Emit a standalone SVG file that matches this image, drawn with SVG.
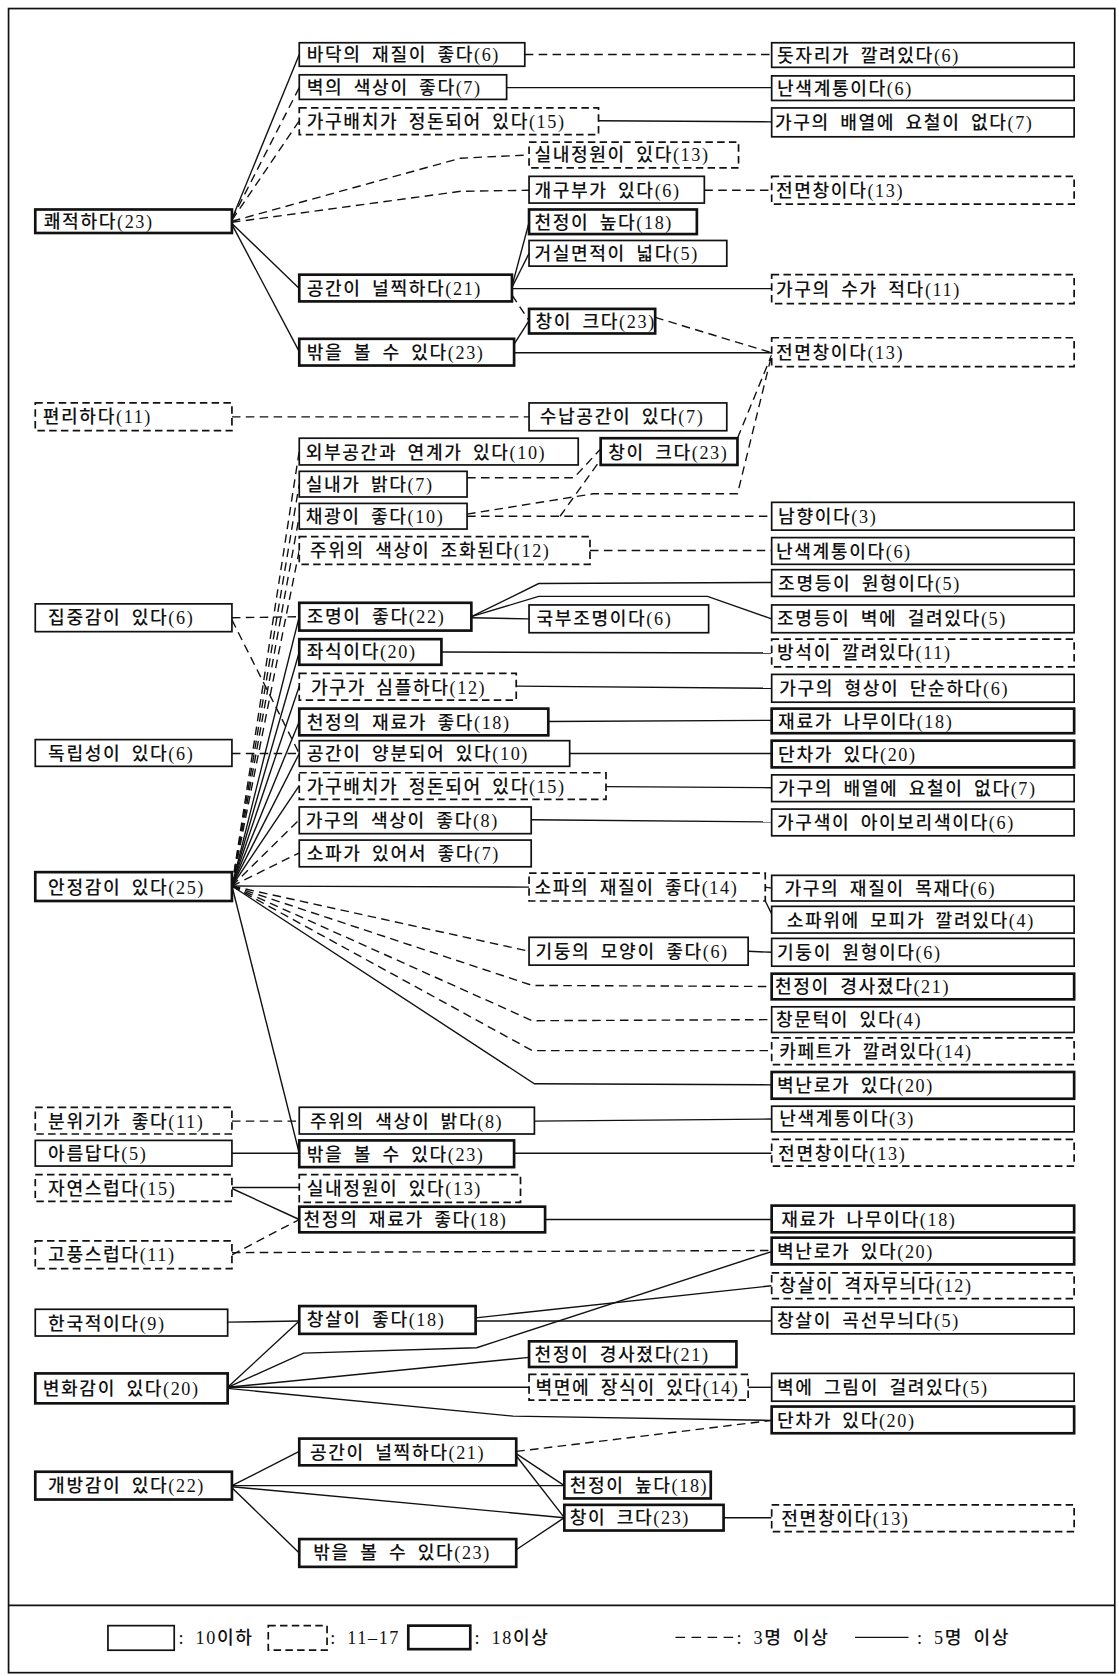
<svg xmlns="http://www.w3.org/2000/svg" width="1119" height="1676" viewBox="0 0 1119 1676">
<style>
.t{fill:#fff;stroke:#111;stroke-width:1.6}
.d{fill:#fff;stroke:#111;stroke-width:1.6;stroke-dasharray:7 4}
.k{fill:#fff;stroke:#111;stroke-width:2.5}
text{font-family:"Liberation Serif","Noto Sans CJK KR",serif;font-size:17px;font-weight:500;letter-spacing:1.5px;word-spacing:4px;fill:#111}
.cs{fill:none;stroke:#111;stroke-width:1.3}
.cd{fill:none;stroke:#111;stroke-width:1.3;stroke-dasharray:8 5}
.fr{fill:none;stroke:#111;stroke-width:1.6}
</style>
<rect width="1119" height="1676" fill="#fff"/>
<g transform="scale(1.0688)">
<g id="frame">
<rect class="fr" x="8" y="8" width="1035" height="1557"/>
<line class="fr" x1="8" y1="1502" x2="1043" y2="1502"/>
</g>
<g id="connectors">
<polyline class="cs" points="217,205 280,51"/>
<polyline class="cd" points="217,205 280,82"/>
<polyline class="cd" points="217,206 280,113"/>
<polyline class="cd" points="217,207 431,148 495,145"/>
<polyline class="cd" points="217,208 431,179 495,178"/>
<polyline class="cs" points="217,209 280,270"/>
<polyline class="cs" points="217,210 280,329"/>
<polyline class="cd" points="491,51 722,51"/>
<polyline class="cs" points="474,82 722,82"/>
<polyline class="cs" points="560,113 722,114"/>
<polyline class="cd" points="659,178 722,178"/>
<polyline class="cs" points="479,268 495,208"/>
<polyline class="cs" points="479,269 495,237"/>
<polyline class="cs" points="479,270 722,270"/>
<polyline class="cd" points="479,276 495,300"/>
<polyline class="cs" points="481,322 495,300"/>
<polyline class="cs" points="481,330 722,330"/>
<polyline class="cd" points="613,297 722,330"/>
<polyline class="cd" points="217,390 495,390"/>
<polyline class="cd" points="217,829 280,422"/>
<polyline class="cd" points="217,829 280,453"/>
<polyline class="cd" points="217,829 280,483"/>
<polyline class="cd" points="217,829 280,515"/>
<polyline class="cs" points="217,829 280,577"/>
<polyline class="cs" points="217,829 280,610"/>
<polyline class="cs" points="217,829 280,642"/>
<polyline class="cs" points="217,829 280,675"/>
<polyline class="cs" points="217,829 280,705"/>
<polyline class="cs" points="217,829 280,735"/>
<polyline class="cd" points="217,829 280,767"/>
<polyline class="cd" points="217,829 280,798"/>
<polyline class="cs" points="217,829 495,830"/>
<polyline class="cd" points="217,829 495,890"/>
<polyline class="cd" points="217,829 498,922 722,923"/>
<polyline class="cd" points="217,829 498,955 722,954"/>
<polyline class="cd" points="217,829 498,983 722,983"/>
<polyline class="cs" points="217,829 500,1014 722,1015"/>
<polyline class="cs" points="217,829 280,1079"/>
<polyline class="cd" points="217,578 280,577"/>
<polyline class="cd" points="217,580 280,705"/>
<polyline class="cd" points="217,705 280,705"/>
<polyline class="cd" points="437,447 537,447 562,420"/>
<polyline class="cd" points="437,483 722,483"/>
<polyline class="cd" points="437,481 555,462 690,462 722,332"/>
<polyline class="cd" points="524,483 562,430"/>
<polyline class="cd" points="690,410 722,332"/>
<polyline class="cd" points="552,515 722,515"/>
<polyline class="cs" points="441,577 504,546 722,545"/>
<polyline class="cs" points="441,577 504,558 662,558 722,579"/>
<polyline class="cs" points="441,578 495,579"/>
<polyline class="cs" points="413,610 722,611"/>
<polyline class="cs" points="483,642 722,644"/>
<polyline class="cs" points="513,675 722,674"/>
<polyline class="cs" points="533,705 722,705"/>
<polyline class="cs" points="567,736 722,737"/>
<polyline class="cs" points="497,767 722,769"/>
<polyline class="cs" points="716,830 722,831"/>
<polyline class="cs" points="716,843 722,855"/>
<polyline class="cs" points="700,890 722,891"/>
<polyline class="cd" points="217,1049 280,1049"/>
<polyline class="cs" points="500,1049 722,1047"/>
<polyline class="cs" points="217,1079 280,1079"/>
<polyline class="cs" points="481,1079 722,1079"/>
<polyline class="cs" points="217,1111 280,1111"/>
<polyline class="cs" points="217,1112 280,1141"/>
<polyline class="cs" points="510,1141 722,1141"/>
<polyline class="cd" points="217,1174 280,1141"/>
<polyline class="cd" points="217,1172 722,1170"/>
<polyline class="cs" points="213,1237 280,1236"/>
<polyline class="cs" points="213,1298 280,1236"/>
<polyline class="cs" points="445,1233 722,1203"/>
<polyline class="cs" points="445,1236 722,1236"/>
<polyline class="cs" points="213,1298 284,1266 446,1261 722,1171"/>
<polyline class="cs" points="213,1298 495,1270"/>
<polyline class="cs" points="213,1298 495,1298"/>
<polyline class="cs" points="213,1299 480,1325 722,1329"/>
<polyline class="cs" points="700,1298 722,1298"/>
<polyline class="cd" points="483,1358 722,1329"/>
<polyline class="cs" points="217,1390 280,1358"/>
<polyline class="cs" points="217,1390 528,1390"/>
<polyline class="cs" points="217,1391 528,1420"/>
<polyline class="cs" points="217,1392 280,1453"/>
<polyline class="cs" points="483,1360 528,1390"/>
<polyline class="cs" points="483,1362 528,1420"/>
<polyline class="cs" points="483,1450 528,1420"/>
<polyline class="cs" points="677,1420 722,1420"/>
</g>
<g id="n1"><rect class="k" x="33" y="196" width="184" height="22"/><text x="41" y="213">쾌적하다(23)</text></g>
<g id="n2"><rect class="t" x="280" y="40" width="211" height="22"/><text x="287" y="57">바닥의 재질이 좋다(6)</text></g>
<g id="n3"><rect class="t" x="280" y="70" width="194" height="23"/><text x="287" y="88">벽의 색상이 좋다(7)</text></g>
<g id="n4"><rect class="d" x="280" y="101" width="280" height="25"/><text x="287" y="120">가구배치가 정돈되어 있다(15)</text></g>
<g id="n5"><rect class="d" x="495" y="133" width="196" height="24"/><text x="500" y="151">실내정원이 있다(13)</text></g>
<g id="n6"><rect class="t" x="495" y="165" width="164" height="25"/><text x="500" y="184">개구부가 있다(6)</text></g>
<g id="n7"><rect class="k" x="495" y="196" width="157" height="23"/><text x="500" y="214">천정이 높다(18)</text></g>
<g id="n8"><rect class="t" x="495" y="225" width="185" height="24"/><text x="500" y="243">거실면적이 넓다(5)</text></g>
<g id="n9"><rect class="k" x="280" y="257" width="199" height="25"/><text x="287" y="276">공간이 널찍하다(21)</text></g>
<g id="n10"><rect class="k" x="495" y="289" width="118" height="23"/><text x="501" y="307">창이 크다(23)</text></g>
<g id="n11"><rect class="k" x="280" y="317" width="201" height="25"/><text x="287" y="336">밖을 볼 수 있다(23)</text></g>
<g id="r1"><rect class="t" x="722" y="40" width="283" height="23"/><text x="727" y="58">돗자리가 깔려있다(6)</text></g>
<g id="r2"><rect class="t" x="722" y="71" width="283" height="23"/><text x="727" y="89">난색계통이다(6)</text></g>
<g id="r3"><rect class="t" x="722" y="101" width="283" height="27"/><text x="725" y="121">가구의 배열에 요철이 없다(7)</text></g>
<g id="r4"><rect class="d" x="722" y="165" width="283" height="26"/><text x="726" y="184">전면창이다(13)</text></g>
<g id="r5"><rect class="d" x="722" y="257" width="283" height="27"/><text x="726" y="277">가구의 수가 적다(11)</text></g>
<g id="r6"><rect class="d" x="722" y="316" width="283" height="27"/><text x="726" y="336">전면창이다(13)</text></g>
<g id="m1"><rect class="d" x="33" y="377" width="184" height="26"/><text x="40" y="396">편리하다(11)</text></g>
<g id="m2"><rect class="t" x="495" y="377" width="185" height="26"/><text x="505" y="396">수납공간이 있다(7)</text></g>
<g id="m3"><rect class="t" x="280" y="410" width="261" height="25"/><text x="286" y="429">외부공간과 연계가 있다(10)</text></g>
<g id="m4"><rect class="k" x="562" y="410" width="128" height="25"/><text x="569" y="429">창이 크다(23)</text></g>
<g id="m5"><rect class="t" x="280" y="441" width="157" height="24"/><text x="286" y="459">실내가 밝다(7)</text></g>
<g id="m6"><rect class="t" x="280" y="471" width="157" height="24"/><text x="286" y="489">채광이 좋다(10)</text></g>
<g id="m7"><rect class="t" x="722" y="470" width="283" height="26"/><text x="728" y="489">남향이다(3)</text></g>
<g id="m8"><rect class="d" x="280" y="502" width="272" height="26"/><text x="290" y="521">주위의 색상이 조화된다(12)</text></g>
<g id="m9"><rect class="t" x="722" y="503" width="283" height="25"/><text x="726" y="522">난색계통이다(6)</text></g>
<g id="m10"><rect class="t" x="722" y="533" width="283" height="25"/><text x="728" y="552">조명등이 원형이다(5)</text></g>
<g id="m11"><rect class="t" x="33" y="565" width="184" height="26"/><text x="45" y="584">집중감이 있다(6)</text></g>
<g id="m12"><rect class="k" x="280" y="564" width="161" height="26"/><text x="287" y="583">조명이 좋다(22)</text></g>
<g id="m13"><rect class="t" x="495" y="566" width="168" height="26"/><text x="502" y="585">국부조명이다(6)</text></g>
<g id="m14"><rect class="t" x="722" y="566" width="283" height="26"/><text x="727" y="585">조명등이 벽에 걸려있다(5)</text></g>
<g id="m15"><rect class="k" x="280" y="598" width="133" height="24"/><text x="287" y="616">좌식이다(20)</text></g>
<g id="m16"><rect class="d" x="722" y="598" width="283" height="26"/><text x="727" y="617">방석이 깔려있다(11)</text></g>
<g id="m17"><rect class="d" x="280" y="630" width="203" height="25"/><text x="291" y="649">가구가 심플하다(12)</text></g>
<g id="m18"><rect class="t" x="722" y="631" width="283" height="26"/><text x="729" y="650">가구의 형상이 단순하다(6)</text></g>
<g id="m19"><rect class="k" x="280" y="663" width="233" height="25"/><text x="287" y="682">천정의 재료가 좋다(18)</text></g>
<g id="m20"><rect class="k" x="722" y="663" width="283" height="23"/><text x="728" y="681">재료가 나무이다(18)</text></g>
<g id="m21"><rect class="t" x="33" y="692" width="184" height="25"/><text x="45" y="711">독립성이 있다(6)</text></g>
<g id="m22"><rect class="t" x="280" y="693" width="253" height="24"/><text x="287" y="711">공간이 양분되어 있다(10)</text></g>
<g id="m23"><rect class="k" x="722" y="693" width="283" height="25"/><text x="728" y="712">단차가 있다(20)</text></g>
<g id="m24"><rect class="d" x="280" y="723" width="287" height="25"/><text x="287" y="742">가구배치가 정돈되어 있다(15)</text></g>
<g id="m25"><rect class="t" x="722" y="725" width="283" height="25"/><text x="728" y="744">가구의 배열에 요철이 없다(7)</text></g>
<g id="m26"><rect class="t" x="280" y="755" width="217" height="25"/><text x="286" y="774">가구의 색상이 좋다(8)</text></g>
<g id="m27"><rect class="t" x="722" y="757" width="283" height="25"/><text x="727" y="776">가구색이 아이보리색이다(6)</text></g>
<g id="m28"><rect class="t" x="280" y="786" width="217" height="25"/><text x="287" y="805">소파가 있어서 좋다(7)</text></g>
<g id="m29"><rect class="k" x="33" y="816" width="184" height="27"/><text x="45" y="836">안정감이 있다(25)</text></g>
<g id="m30"><rect class="d" x="495" y="817" width="221" height="26"/><text x="500" y="836">소파의 재질이 좋다(14)</text></g>
<g id="m31"><rect class="t" x="722" y="819" width="283" height="24"/><text x="734" y="837">가구의 재질이 목재다(6)</text></g>
<g id="m32"><rect class="t" x="722" y="848" width="283" height="25"/><text x="736" y="867">소파위에 모피가 깔려있다(4)</text></g>
<g id="m33"><rect class="t" x="495" y="877" width="205" height="26"/><text x="501" y="896">기둥의 모양이 좋다(6)</text></g>
<g id="m34"><rect class="t" x="722" y="878" width="283" height="26"/><text x="727" y="897">기둥이 원형이다(6)</text></g>
<g id="m35"><rect class="k" x="722" y="911" width="283" height="24"/><text x="725" y="929">천정이 경사졌다(21)</text></g>
<g id="m36"><rect class="t" x="722" y="942" width="283" height="24"/><text x="726" y="960">창문턱이 있다(4)</text></g>
<g id="m37"><rect class="d" x="722" y="971" width="283" height="25"/><text x="729" y="990">카페트가 깔려있다(14)</text></g>
<g id="m38"><rect class="k" x="722" y="1003" width="283" height="25"/><text x="727" y="1022">벽난로가 있다(20)</text></g>
<g id="b1"><rect class="d" x="33" y="1036" width="184" height="25"/><text x="45" y="1055">분위기가 좋다(11)</text></g>
<g id="b2"><rect class="t" x="280" y="1036" width="220" height="25"/><text x="290" y="1055">주위의 색상이 밝다(8)</text></g>
<g id="b3"><rect class="t" x="722" y="1035" width="283" height="24"/><text x="729" y="1053">난색계통이다(3)</text></g>
<g id="b4"><rect class="t" x="33" y="1067" width="184" height="24"/><text x="45" y="1085">아름답다(5)</text></g>
<g id="b5"><rect class="k" x="280" y="1067" width="201" height="25"/><text x="287" y="1086">밖을 볼 수 있다(23)</text></g>
<g id="b6"><rect class="d" x="722" y="1066" width="283" height="25"/><text x="728" y="1085">전면창이다(13)</text></g>
<g id="b7"><rect class="d" x="33" y="1099" width="184" height="25"/><text x="45" y="1118">자연스럽다(15)</text></g>
<g id="b8"><rect class="d" x="280" y="1099" width="207" height="26"/><text x="287" y="1118">실내정원이 있다(13)</text></g>
<g id="b9"><rect class="k" x="280" y="1129" width="230" height="24"/><text x="284" y="1147">천정의 재료가 좋다(18)</text></g>
<g id="b10"><rect class="k" x="722" y="1128" width="283" height="25"/><text x="731" y="1147">재료가 나무이다(18)</text></g>
<g id="b11"><rect class="d" x="33" y="1161" width="184" height="26"/><text x="45" y="1180">고풍스럽다(11)</text></g>
<g id="b12"><rect class="k" x="722" y="1158" width="283" height="25"/><text x="727" y="1177">벽난로가 있다(20)</text></g>
<g id="b13"><rect class="d" x="722" y="1191" width="283" height="24"/><text x="729" y="1209">창살이 격자무늬다(12)</text></g>
<g id="b14"><rect class="t" x="33" y="1225" width="180" height="25"/><text x="45" y="1244">한국적이다(9)</text></g>
<g id="b15"><rect class="k" x="280" y="1222" width="165" height="26"/><text x="287" y="1241">창살이 좋다(18)</text></g>
<g id="b16"><rect class="t" x="722" y="1223" width="283" height="25"/><text x="727" y="1242">창살이 곡선무늬다(5)</text></g>
<g id="b17"><rect class="k" x="495" y="1255" width="194" height="24"/><text x="500" y="1273">천정이 경사졌다(21)</text></g>
<g id="b18"><rect class="k" x="33" y="1285" width="180" height="28"/><text x="40" y="1305">변화감이 있다(20)</text></g>
<g id="b19"><rect class="d" x="495" y="1286" width="205" height="24"/><text x="501" y="1304">벽면에 장식이 있다(14)</text></g>
<g id="b20"><rect class="t" x="722" y="1285" width="283" height="26"/><text x="727" y="1304">벽에 그림이 걸려있다(5)</text></g>
<g id="b21"><rect class="k" x="722" y="1316" width="283" height="25"/><text x="727" y="1335">단차가 있다(20)</text></g>
<g id="b22"><rect class="k" x="280" y="1346" width="203" height="25"/><text x="290" y="1365">공간이 널찍하다(21)</text></g>
<g id="b23"><rect class="k" x="33" y="1377" width="184" height="26"/><text x="45" y="1396">개방감이 있다(22)</text></g>
<g id="b24"><rect class="k" x="528" y="1377" width="137" height="25"/><text x="533" y="1396">천정이 높다(18)</text></g>
<g id="b25"><rect class="k" x="528" y="1408" width="149" height="24"/><text x="533" y="1426">창이 크다(23)</text></g>
<g id="b26"><rect class="d" x="722" y="1408" width="283" height="25"/><text x="731" y="1427">전면창이다(13)</text></g>
<g id="b27"><rect class="k" x="280" y="1440" width="203" height="26"/><text x="293" y="1459">밖을 볼 수 있다(23)</text></g>
<g id="legend">
<rect class="t" x="101" y="1521" width="62" height="23"/><text x="167" y="1538">: 10이하</text>
<rect class="d" x="251" y="1521" width="55" height="23"/><text x="309" y="1538">: 11–17</text>
<rect class="k" x="382" y="1521" width="58" height="22"/><text x="444" y="1538">: 18이상</text>
<line class="cd" x1="632" y1="1532" x2="688" y2="1532" style="stroke-dasharray:9 6"/><text x="689" y="1538">: 3명 이상</text>
<line class="cs" x1="800" y1="1532" x2="850" y2="1532"/><text x="858" y="1538">: 5명 이상</text>
</g>
</g>
</svg>
